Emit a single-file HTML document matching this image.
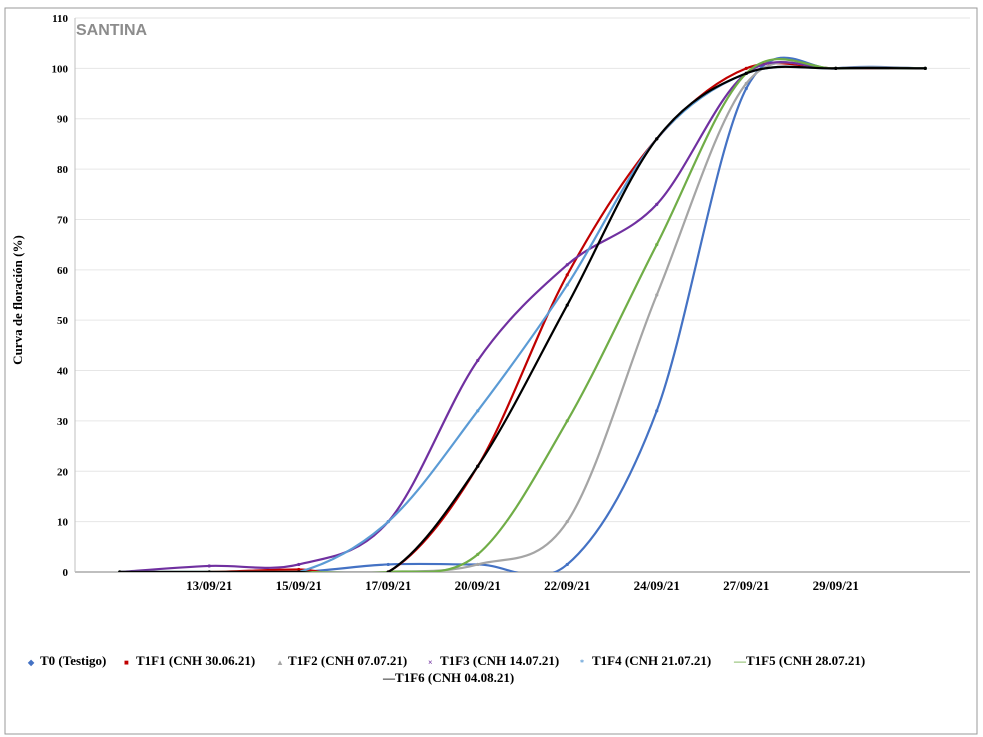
<!DOCTYPE html>
<html><head><meta charset="utf-8">
<style>
body{margin:0;background:#fff;font-family:"Liberation Serif",serif}
svg{display:block}
</style></head>
<body>
<svg width="983" height="737" id="chart">
<rect x="5" y="8" width="972" height="726" fill="#fff" stroke="#999" stroke-width="1"/>
<defs><clipPath id="pc"><rect x="75" y="10" width="900" height="562"/></clipPath></defs>
<g id="grid"></g>
<text x="76" y="35" font-family="Liberation Sans,sans-serif" font-weight="bold" font-size="16" fill="#8c8c8c">SANTINA</text>
<text transform="translate(22,300) rotate(-90)" text-anchor="middle" font-weight="bold" font-size="13">Curva de floración (%)</text>
<g id="series" clip-path="url(#pc)"></g>
<g id="legend"></g>
</svg>
<script>
const categories=["","13/09/21","15/09/21","17/09/21","20/09/21","22/09/21","24/09/21","27/09/21","29/09/21",""];
const yTicks=[0,10,20,30,40,50,60,70,80,90,100,110];
const seriesNames=["T0 (Testigo)","T1F1 (CNH 30.06.21)","T1F2 (CNH 07.07.21)","T1F3 (CNH 14.07.21)","T1F4 (CNH 21.07.21)","T1F5 (CNH 28.07.21)","T1F6 (CNH 04.08.21)"];
const seriesColors=["#4472c4","#c00000","#a5a5a5","#7030a0","#5b9bd5","#70ad47","#000000"];
const T0=[0,0,0,1.5,1.5,1.5,32,96,100,100];
const T1F1=[0,0,0.5,0,21,59,86,100,100,100];
const T1F2=[0,0,0,0,1.5,10,55,97,100,100];
const T1F3=[0,1.2,1.5,10,42,61,73,99,100,100];
const T1F4=[0,0,0,10,32,57,86,99,100,100];
const T1F5=[0,0,0,0,3.5,30,65,99,100,100];
const T1F6=[0,0,0,0,21,53,86,99,100,100];
const allSeries=[T0,T1F1,T1F2,T1F3,T1F4,T1F5,T1F6];
const NS="http://www.w3.org/2000/svg";
const X0=75,X1=970,Y0=572,Y1=18;
const xs=i=>X0+(X1-X0)/categories.length*(i+0.5);
const ys=v=>Y0-(Y0-Y1)*v/110;
function mk(t,a,p){const e=document.createElementNS(NS,t);for(const k in a)e.setAttribute(k,a[k]);p.appendChild(e);return e;}
const grid=document.getElementById('grid');
yTicks.forEach(v=>{
 const l=mk('line',{x1:X0,x2:X1,y1:ys(v),y2:ys(v),stroke:v===0?'#bfbfbf':'#e6e6e6','stroke-width':v===0?2:1},grid);
 
 
 const t=mk('text',{x:68,y:ys(v)+4,'text-anchor':'end','font-size':'11','font-weight':'bold'},grid);
 t.textContent=v;
 
 
});
const ax=mk('line',{x1:X0,x2:X0,y1:Y1,y2:Y0,stroke:'#bfbfbf','stroke-width':1},grid);


categories.forEach((c,i)=>{
 if(!c)return;
 const t=mk('text',{x:xs(i),y:590,'text-anchor':'middle','font-size':'13','font-weight':'bold'},grid);
 t.textContent=c;
 
 
});
function smooth(pts){
 let d=`M${pts[0][0]},${pts[0][1]}`;
 for(let i=0;i<pts.length-1;i++){
  const p0=pts[i-1]||pts[i],p1=pts[i],p2=pts[i+1],p3=pts[i+2]||p2;
  const k=1/6;
  d+=` C${p1[0]+(p2[0]-p0[0])*k},${p1[1]+(p2[1]-p0[1])*k} ${p2[0]-(p3[0]-p1[0])*k},${p2[1]-(p3[1]-p1[1])*k} ${p2[0]},${p2[1]}`;
 }
 return d;
}
const sg=document.getElementById('series');
allSeries.forEach((s,si)=>{
 const pts=s.map((v,i)=>[xs(i),ys(v)]);
 const p=mk('path',{d:smooth(pts),fill:'none',stroke:seriesColors[si],'stroke-width':2.2},sg);
 
 
 pts.forEach(q=>{
  const m=mk('circle',{cx:q[0],cy:q[1],r:1.6,fill:seriesColors[si]},sg);
  
  
 });
});
const lg=document.getElementById('legend');
const legPos=[[28,665],[124,665],[276,665],[428,665],[580,665],[734,665],[383,682]];
const glyph=["◆","■","▲","×","*","—","—"];
seriesNames.forEach((n,i)=>{
 const g=mk('g',{},lg);
 
 
 const s=mk('text',{x:legPos[i][0],y:legPos[i][1],'font-size':i>=5?'12':'8',fill:seriesColors[i],'font-weight':'bold'},g);
 s.textContent=glyph[i];
 const t=mk('text',{x:legPos[i][0]+12,y:legPos[i][1],'font-size':'13','font-weight':'bold'},g);
 t.textContent=n;
});
</script>
</body></html>
